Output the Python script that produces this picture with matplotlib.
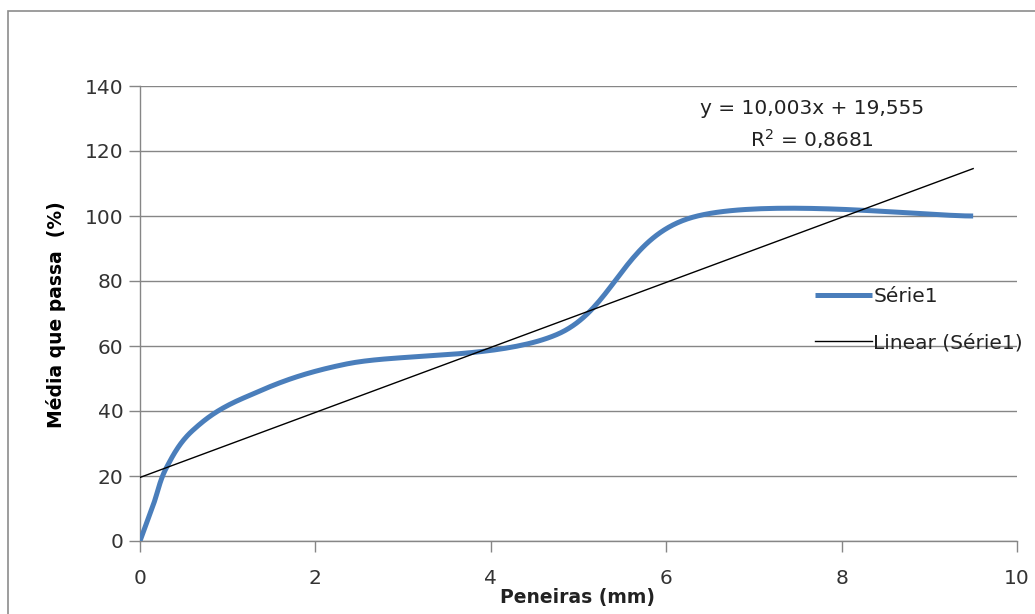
import numpy as np
import matplotlib.pyplot as plt
from matplotlib.patches import Rectangle

# Peneiras (mm) e média que passa (%)
peneiras = [0, 0.15, 0.3, 0.6, 1.18, 2.36, 4.75, 6.3, 9.5]
passa = [0, 11, 22.5, 34, 44, 54.5, 63.5, 99.6, 100]

# Linha de tendência (Excel)
coef_a = 10.003
coef_b = 19.555
eq_text = "y = 10,003x + 19,555"
r2_text = "R$^2$ = 0,8681"

x_ticks = [0, 2, 4, 6, 8, 10]
y_ticks = [0, 20, 40, 60, 80, 100, 120, 140]


def suaviza(xs, ys, n=40):
    # curva suavizada tipo Excel (Bezier com tangentes de Catmull-Rom)
    p = np.column_stack([xs, ys]).astype(float)
    out = []
    for i in range(len(p) - 1):
        p0 = p[i - 1] if i > 0 else p[i]
        p1 = p[i]
        p2 = p[i + 1]
        p3 = p[i + 2] if i + 2 < len(p) else p[i + 1]
        c1 = p1 + (p2 - p0) / 6
        c2 = p2 - (p3 - p1) / 6
        t = np.linspace(0, 1, n)[:, None]
        seg = ((1 - t) ** 3 * p1 + 3 * (1 - t) ** 2 * t * c1
               + 3 * (1 - t) * t ** 2 * c2 + t ** 3 * p2)
        out.append(seg if i == 0 else seg[1:])
    out = np.vstack(out)
    return out[:, 0], out[:, 1]


plt.rcParams['font.family'] = ['DejaVu Sans']
plt.rcParams['mathtext.fontset'] = 'dejavusans'

fig = plt.figure(figsize=(10.35, 6.14), dpi=100)
fig.patches.append(Rectangle((8 / 1035, -0.2), 1.5, 1.2 - 11 / 614,
                             transform=fig.transFigure, fill=False,
                             edgecolor='#8c8c8c', linewidth=1.2))

ax = fig.add_axes([140 / 1035, 1 - 541 / 614, 877 / 1035, 455 / 614])

xs, ys = suaviza(peneiras, passa)
ax.plot(xs, ys, color='#4a7ebb', linewidth=3.6, solid_capstyle='butt',
        label='Série1', zorder=3)

xt = np.array([0, max(peneiras)])
ax.plot(xt, coef_a * xt + coef_b, color='black', linewidth=1.0,
        label='Linear (Série1)', zorder=4)

ax.set_xlim(0, 10)
ax.set_ylim(0, 140)
ax.set_xticks(x_ticks)
ax.set_yticks(y_ticks)
ax.yaxis.grid(True, color='#868686', linewidth=1.0)
ax.set_axisbelow(True)
for s in ['top', 'right']:
    ax.spines[s].set_visible(False)
for s in ['left', 'bottom']:
    ax.spines[s].set_color('#868686')
    ax.spines[s].set_linewidth(1.0)
ax.tick_params(axis='both', direction='out', length=8, width=1.0,
               color='#868686', labelsize=14.5, labelcolor='#333333')
ax.tick_params(axis='y', pad=4)
ax.tick_params(axis='x', pad=12)

fig.text(56 / 1035, 1 - 315 / 614, 'Média que passa  (%)', rotation=90,
         ha='center', va='center', fontsize=13.5, fontweight='bold')
fig.text(578 / 1035, 1 - 597 / 614, 'Peneiras (mm)', ha='center',
         va='center', fontsize=13.5, fontweight='bold', color='#222222')

fig.text(812 / 1035, 1 - 108 / 614, eq_text, ha='center', va='center',
         fontsize=14.5, color='#222222')
fig.text(812 / 1035, 1 - 139 / 614, r2_text, ha='center', va='center',
         fontsize=14.5, color='#222222')

ax.legend(loc='upper left', bbox_to_anchor=(805 / 1035, 1 - 277 / 614),
          bbox_transform=fig.transFigure, frameon=False, fontsize=14.5,
          handlelength=2.85, handletextpad=0.05, labelspacing=1.35,
          borderpad=0, labelcolor='#222222')

fig.savefig('out.png', dpi=100)
